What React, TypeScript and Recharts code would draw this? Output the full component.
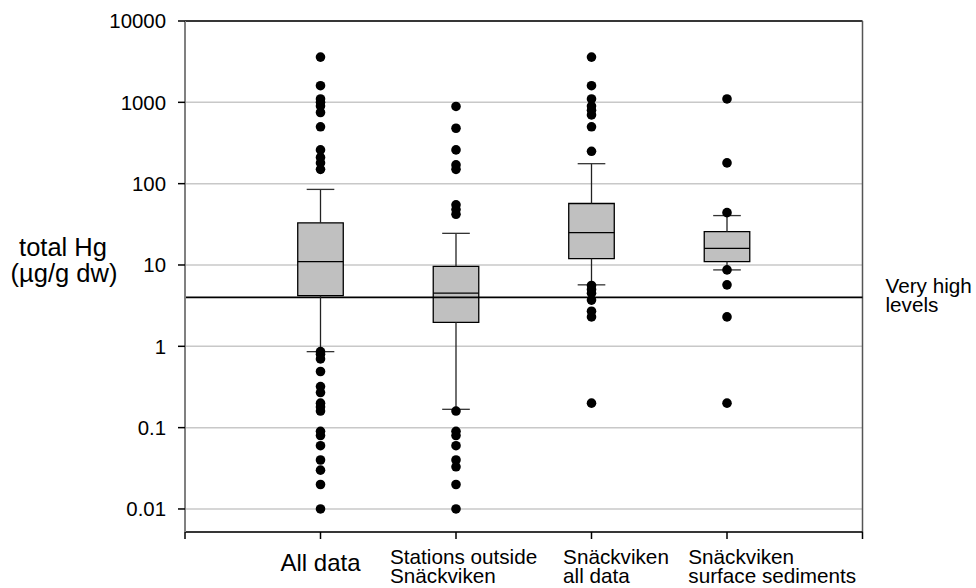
import { ComposedChart, XAxis, YAxis, CartesianGrid, Scatter, ReferenceArea, ReferenceLine } from "recharts"

const positions = [1, 2, 3, 4]
const tickLabels = [["All data"], ["Stations outside", "Snäckviken"], ["Snäckviken", "all data"], ["Snäckviken", "surface sediments"]]

// box plot statistics, µg/g dw
const whiskerLow = [0.86, 0.168, 5.7, 8.7]
const q1 = [4.2, 1.97, 12, 11]
const median = [11, 4.5, 25, 16]
const q3 = [33, 9.6, 57, 25.7]
const whiskerHigh = [85, 24.5, 176, 40.5]

const allDataOutliers = [3600, 1600, 1100, 1000, 900, 750, 500, 260, 210, 180, 150, 0.86, 0.8, 0.7, 0.49, 0.32, 0.27, 0.2, 0.18, 0.16, 0.09, 0.08, 0.06, 0.04, 0.03, 0.02, 0.01]
const stationsOutliers = [890, 480, 260, 170, 150, 55, 48, 42, 0.16, 0.09, 0.08, 0.06, 0.04, 0.033, 0.02, 0.01]
const snackAllOutliers = [3600, 1600, 1100, 900, 800, 700, 500, 250, 5.6, 5.0, 4.5, 3.7, 2.7, 2.3, 0.2]
const surfaceOutliers = [1100, 180, 44, 8.7, 5.7, 2.3, 0.2]

const yTicks = [0.01, 0.1, 1, 10, 100, 1000, 10000]
const veryHighLevel = 4

const outlierPoints = [allDataOutliers, stationsOutliers, snackAllOutliers, surfaceOutliers].flatMap((vals, i) =>
  vals.map((v) => ({ x: positions[i], y: v }))
)

const FONT = "Arial, 'Liberation Sans', sans-serif"
const BOX_HALF = 0.168
const CAP_HALF = 0.102
const labelDx = [0, -66, -28.4, -38.7]

function CategoryTick(props: any) {
  const { x, y, payload } = props
  const i = positions.indexOf(payload.value)
  if (i < 0) return <g />
  const lines = tickLabels[i]
  if (lines.length === 1) {
    return (
      <text x={x} y={y + 32} textAnchor="middle" fontSize={24} fontFamily={FONT} fill="#000">
        {lines[0]}
      </text>
    )
  }
  const lx = x + labelDx[i]
  return (
    <text fontSize={20.7} fontFamily={FONT} fill="#000">
      <tspan x={lx} y={y + 24.6}>{lines[0]}</tspan>
      <tspan x={lx} y={y + 44}>{lines[1]}</tspan>
    </text>
  )
}

function YTitle() {
  return (
    <text fontSize={25.5} fontFamily={FONT} fill="#000" textAnchor="middle">
      <tspan x={55} y={248}>total Hg</tspan>
      <tspan x={56} y={274}>(µg/g dw)</tspan>
    </text>
  )
}

function ThresholdLabel(props: any) {
  const vb = props.viewBox || {}
  const x = vb.x + vb.width + 23
  return (
    <text fontSize={20.7} fontFamily={FONT} fill="#000">
      <tspan x={x} y={vb.y - 4}>Very high</tspan>
      <tspan x={x} y={vb.y + 14.3}>levels</tspan>
    </text>
  )
}

const Dot = (props: any) => <circle cx={props.cx} cy={props.cy} r={4.8} fill="#000" />

export default function App() {
  return (
    <div style={{ width: 968, height: 580, padding: "8px 0 0 8px" }}>
      <style>{`body { margin: 0; }`}</style>
      <ComposedChart width={968} height={580} margin={{ top: 13, right: 113.5, bottom: 8, left: 0 }}>
        <CartesianGrid vertical={false} stroke="#c8c8c8" strokeWidth={1.5} />
        <XAxis
          dataKey="x"
          type="number"
          domain={[0, 5]}
          ticks={[0, 1, 2, 3, 4, 5]}
          interval={0}
          height={48}
          tickSize={7}
          tickMargin={0}
          axisLine={{ stroke: "#000", strokeWidth: 1.5 }}
          tickLine={{ stroke: "#000", strokeWidth: 1.5 }}
          tick={<CategoryTick />}
        />
        <YAxis
          dataKey="y"
          type="number"
          scale="log"
          domain={[0.00521, 10000]}
          allowDataOverflow
          ticks={yTicks}
          interval={0}
          width={177}
          tickSize={7}
          tickMargin={12}
          axisLine={{ stroke: "#808080", strokeWidth: 2 }}
          tickLine={{ stroke: "#000", strokeWidth: 1.5 }}
          tick={{ fill: "#000", fontSize: 20.4, fontFamily: FONT }}
          label={<YTitle />}
        />
        <ReferenceLine y={10000} stroke="#000" strokeWidth={1.5} />
        <ReferenceLine x={5} stroke="#555" strokeWidth={1.5} />
        <ReferenceLine y={veryHighLevel} stroke="#000" strokeWidth={1.6} label={<ThresholdLabel />} />
        {positions.map((p, i) => (
          <ReferenceLine key={`wh${i}`} segment={[{ x: p, y: q3[i] }, { x: p, y: whiskerHigh[i] }]} stroke="#222" strokeWidth={1.3} />
        ))}
        {positions.map((p, i) => (
          <ReferenceLine key={`wl${i}`} segment={[{ x: p, y: q1[i] }, { x: p, y: whiskerLow[i] }]} stroke="#222" strokeWidth={1.3} />
        ))}
        {positions.map((p, i) => (
          <ReferenceLine key={`ch${i}`} segment={[{ x: p - CAP_HALF, y: whiskerHigh[i] }, { x: p + CAP_HALF, y: whiskerHigh[i] }]} stroke="#333" strokeWidth={1.3} />
        ))}
        {positions.map((p, i) => (
          <ReferenceLine key={`cl${i}`} segment={[{ x: p - CAP_HALF, y: whiskerLow[i] }, { x: p + CAP_HALF, y: whiskerLow[i] }]} stroke="#333" strokeWidth={1.3} />
        ))}
        {positions.map((p, i) => (
          <ReferenceArea
            key={`box${i}`}
            x1={p - BOX_HALF}
            x2={p + BOX_HALF}
            y1={q1[i]}
            y2={q3[i]}
            fill="#c0c0c0"
            fillOpacity={1}
            stroke="#000"
            strokeWidth={1.3}
          />
        ))}
        {positions.map((p, i) => (
          <ReferenceLine key={`med${i}`} segment={[{ x: p - BOX_HALF, y: median[i] }, { x: p + BOX_HALF, y: median[i] }]} stroke="#000" strokeWidth={1.3} />
        ))}
        <Scatter data={outlierPoints} dataKey="y" shape={<Dot />} isAnimationActive={false} />
      </ComposedChart>
    </div>
  )
}
